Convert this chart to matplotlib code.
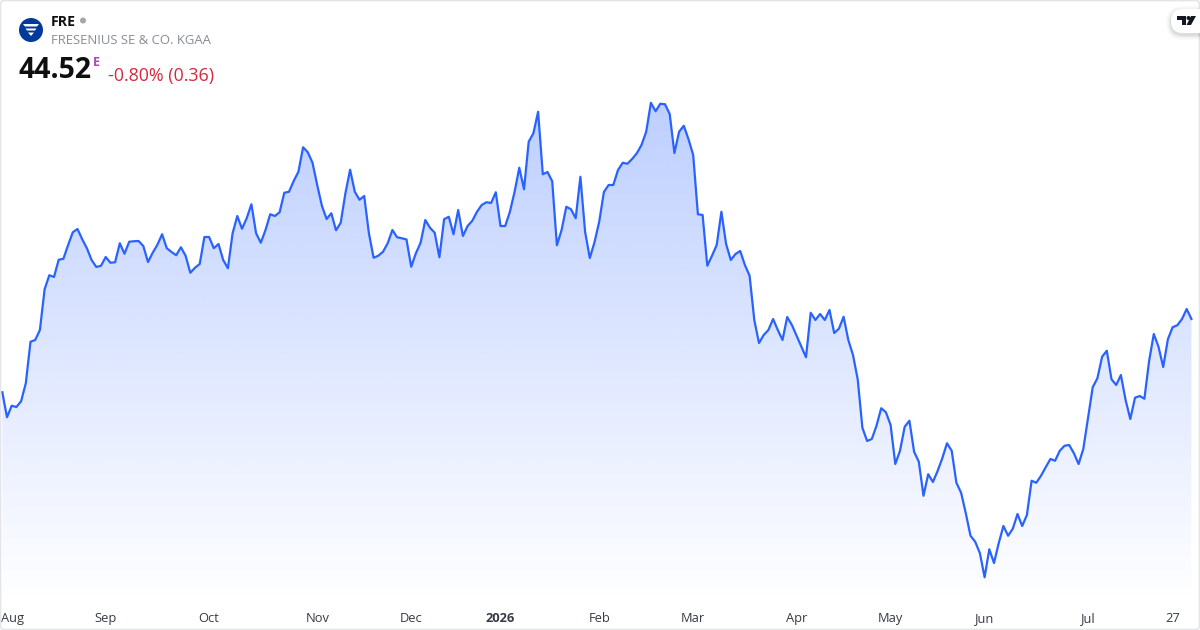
import numpy as np
import matplotlib
matplotlib.use('Agg')
import matplotlib.pyplot as plt
from matplotlib.patches import Circle, FancyBboxPatch, Polygon
from matplotlib.transforms import ScaledTranslation

#%% data
prices = [
    41.59, 40.59, 41.05, 41.00, 41.23, 41.95, 43.61, 43.68, 44.08, 45.71,
    46.27, 46.20, 46.89, 46.93, 47.48, 47.99, 48.12, 47.71, 47.35, 46.88,
    46.60, 46.65, 47.00, 46.77, 46.79, 47.55, 47.13, 47.61, 47.63, 47.64,
    47.44, 46.80, 47.17, 47.49, 47.91, 47.35, 47.20, 47.07, 47.39, 47.05,
    46.37, 46.57, 46.72, 47.80, 47.80, 47.35, 47.52, 46.88, 46.55, 47.95,
    48.64, 48.13, 48.55, 49.11, 47.95, 47.57, 48.08, 48.71, 48.64, 48.79,
    49.57, 49.61, 50.04, 50.41, 51.39, 51.19, 50.77, 49.88, 49.05, 48.52,
    48.75, 48.07, 48.37, 49.55, 50.49, 49.61, 49.29, 49.44, 47.95, 46.97,
    47.05, 47.21, 47.55, 48.08, 47.79, 47.75, 47.70, 46.61, 47.15, 47.57,
    48.48, 48.17, 47.97, 46.99, 48.51, 48.61, 47.91, 48.88, 47.84, 48.24,
    48.45, 48.81, 49.08, 49.19, 49.16, 49.59, 48.24, 48.24, 48.81, 49.61,
    50.57, 49.71, 51.61, 51.95, 52.81, 50.31, 50.40, 50.03, 47.47, 48.08,
    49.01, 48.91, 48.55, 50.21, 48.01, 46.96, 47.59, 48.41, 49.60, 49.88,
    49.88, 50.48, 50.77, 50.73, 50.92, 51.15, 51.48, 52.01, 53.17, 52.83,
    53.13, 53.11, 52.72, 51.16, 52.01, 52.25, 51.71, 51.08, 48.71, 48.68,
    46.65, 47.05, 47.48, 48.81, 47.52, 46.88, 47.12, 47.24, 46.68, 46.25,
    44.48, 43.56, 43.88, 44.08, 44.52, 44.08, 43.68, 44.60, 44.28, 43.85,
    43.41, 42.99, 44.77, 44.48, 44.72, 44.48, 44.88, 43.96, 44.13, 44.61,
    43.68, 43.08, 42.11, 40.17, 39.64, 39.72, 40.25, 40.95, 40.79, 40.28,
    38.72, 39.25, 40.21, 40.45, 39.21, 38.81, 37.45, 38.31, 38.00, 38.44,
    38.95, 39.55, 39.25, 37.97, 37.57, 36.75, 35.85, 35.61, 35.15, 34.19,
    35.31, 34.76, 35.55, 36.24, 35.85, 36.13, 36.72, 36.24, 36.68, 38.05,
    37.97, 38.25, 38.59, 38.92, 38.85, 39.25, 39.45, 39.48, 39.15, 38.72,
    39.32, 40.55, 41.79, 42.15, 43.01, 43.25, 42.11, 41.88, 42.28, 41.28,
    40.52, 41.37, 41.44, 41.33, 42.84, 43.92, 43.41, 42.60, 43.71, 44.19,
    44.27, 44.52, 44.92, 44.52,
]
tick_index = [0, 22, 44, 67, 87, 106, 127, 147, 169, 189, 209, 231, 249]
tick_labels = ['Aug', 'Sep', 'Oct', 'Nov', 'Dec', '2026', 'Feb', 'Mar', 'Apr',
               'May', 'Jun', 'Jul', '27']

LINE = '#2962FF'
FONT = 'Open Sans'
plt.rcParams['font.family'] = FONT

#%% plot
fig = plt.figure(figsize=(12, 6.3), dpi=100)
ax = fig.add_axes([0, 27 / 630, 1, 603 / 630])
x = np.arange(len(prices))

# area below the line, blue fading to nothing at the time axis
grad = np.zeros((256, 1, 4))
grad[:, :, :3] = matplotlib.colors.to_rgb(LINE)
grad[:, 0, 3] = np.linspace(0.31, 0.0, 256)
ymin, ymax = 33.16, 57.28
area = ax.fill_between(x, prices, ymin, facecolor='none', edgecolor='none')
img = ax.imshow(grad, extent=[x[0], x[-1], ymin, 53.4], aspect='auto', zorder=1)
img.set_clip_path(area.get_paths()[0], transform=ax.transData)
ax.plot(x, prices, color=LINE, lw=1.6, solid_joinstyle='round', zorder=2)

ax.set_xlim(-0.49, 254.83)
ax.set_ylim(ymin, ymax)
ax.set_yticks([])
ax.set_xticks(tick_index)
ax.set_xticklabels(tick_labels, fontsize=9.3, color='#363a45')
ax.tick_params(axis='x', length=0, pad=6.5)
for s in ax.spines.values():
    s.set_visible(False)
labels = ax.get_xticklabels()
labels[0].set_ha('left')
# first label sits against the left edge of the card
labels[0].set_transform(labels[0].get_transform() + ScaledTranslation(-1.3 / 100, 0, fig.dpi_scale_trans))
labels[5].set_fontweight('bold')

#%% header and logos, in pixel coordinates
top = fig.add_axes([0, 0, 1, 1])
top.set_xlim(0, 1200)
top.set_ylim(630, 0)
top.axis('off')
top.patch.set_alpha(0)

# card border
top.add_patch(FancyBboxPatch((0.5, 0.5), 1199, 629, boxstyle='round,pad=0,rounding_size=4',
                             fc='none', ec='#e3e5ea', lw=1.2))

# company logo
top.add_patch(Circle((31, 30), 12, fc='#003b9c', ec='none'))
top.add_patch(Polygon([(23, 24), (39, 24), (37, 26.5), (25, 26.5)], fc='white', ec='none'))
top.add_patch(Polygon([(25.5, 28.5), (36.5, 28.5), (35, 30.5), (27, 30.5)], fc='white', ec='none'))
top.add_patch(Polygon([(28, 32.5), (34, 32.5), (31, 36)], fc='white', ec='none'))

top.text(51, 21.5, 'FRE', fontsize=10.2, fontweight='bold', color='#0f0f0f', va='center')
top.add_patch(Circle((83, 20.5), 3, fc='#a5a7ad', ec='none'))
top.text(51, 41, 'FRESENIUS SE & CO. KGAA', fontsize=9.45, color='#8a8d96', va='center')
top.text(18.5, 71, '44.52', fontsize=20.4, fontweight='bold', color='#0f0f0f', va='center')
top.text(93, 62, 'E', fontsize=9, fontweight='bold', color='#ab47bc', va='center')
top.text(108, 75.5, '-0.80% (0.36)', fontsize=12.9, color='#d6293e', va='center')

# tradingview badge
for grow, alpha in [(5, 0.02), (3.5, 0.03), (2, 0.04), (1, 0.05)]:
    top.add_patch(FancyBboxPatch((1171 - grow, 9 - grow + 2), 40 + 2 * grow, 24 + 2 * grow,
                                 boxstyle='round,pad=0,rounding_size=%g' % (12 + grow),
                                 fc='black', ec='none', alpha=alpha))
top.add_patch(FancyBboxPatch((1171, 9), 40, 24, boxstyle='round,pad=0,rounding_size=12',
                             fc='white', ec='none'))
top.add_patch(Polygon([(1177, 16), (1186, 16), (1186, 25), (1182, 25), (1182, 20), (1177, 20)],
                      fc='#131722', ec='none'))
top.add_patch(Circle((1188.5, 18), 2, fc='#131722', ec='none'))
top.add_patch(Polygon([(1191, 16), (1196, 16), (1191, 25), (1186.5, 25)], fc='#131722', ec='none'))

fig.savefig('out.png', dpi=100)
